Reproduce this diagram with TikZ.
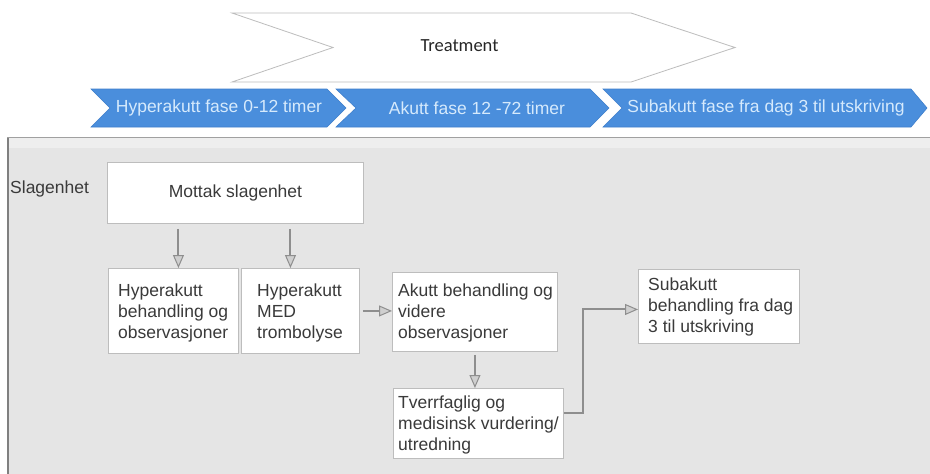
\documentclass[tikz,border=0pt]{standalone}
\usepackage{fontspec}
\setmainfont{Liberation Sans}
\newfontfamily\calib{Carlito}
\usetikzlibrary{arrows.meta}

\definecolor{phaseblue}{HTML}{4A8EDC}
\definecolor{phaseedge}{HTML}{3F7FCB}
\definecolor{phasetext}{HTML}{D6EAFC}
\definecolor{panelgray}{HTML}{E5E5E5}
\definecolor{panelband}{HTML}{EEEEEE}
\definecolor{paneledge}{HTML}{A0A0A0}
\definecolor{boxedge}{HTML}{BDBDBD}
\definecolor{conncol}{HTML}{8E8E8E}
\definecolor{headfill}{HTML}{CFCFCF}
\definecolor{txtcol}{HTML}{3A3A3A}

\tikzset{
  bodyfont/.style={font=\fontsize{17.5}{21}\selectfont},
  stepbox/.style={draw=boxedge, line width=0.9pt, fill=white, inner sep=0pt, anchor=north west},
  boxtext/.style={bodyfont, text=txtcol, align=left, inner sep=0pt, anchor=west},
  phase/.style={fill=phaseblue, draw=phaseedge, line width=0.6pt},
  phasetxt/.style={bodyfont, text=phasetext, inner sep=0pt},
  conn/.style={draw=conncol, line width=2pt,
    -{Triangle[length=13pt, width=11pt, fill=headfill, line width=1pt]}},
}

\begin{document}
\begin{tikzpicture}[x=1pt, y=-1pt]
\useasboundingbox (0,0) rectangle (930,474);
\fill[white] (0,0) rectangle (930,474);

% overall treatment chevron
\draw[draw=boxedge, line width=0.8pt, fill=white]
  (232,13) -- (631,13) -- (735,47.5) -- (631,82) -- (232,82) -- (333,47.5) -- cycle;
\node[font=\calib\fontsize{18.5}{21}\selectfont, text=black!85, anchor=base] (treat) at (459.5,51.5) {Treatment};

% phase chevrons
\draw[phase] (91,89) -- (327,89) -- (346,108) -- (327,127) -- (91,127) -- (110,108) -- cycle;
\draw[phase] (336,89) -- (590,89) -- (609,108) -- (590,127) -- (336,127) -- (356,108) -- cycle;
\draw[phase] (603,89) -- (911,89) -- (927,108) -- (911,127) -- (603,127) -- (622,108) -- cycle;
\node[phasetxt] (ph1) at (219,108) {Hyperakutt fase 0-12 timer};
\node[phasetxt] (ph2) at (477,108) {Akutt fase 12 -72 timer};
\node[phasetxt] (ph3) at (766,108) {Subakutt fase fra dag 3 til utskriving};

% swimlane panel
\fill[panelgray] (7,137) rectangle (930,474);
\fill[panelband] (7,138) rectangle (930,148);
\draw[paneledge, line width=1.5pt] (7,137.5) -- (930,137.5);
\draw[black!50, line width=2pt] (8,137.5) -- (8,474);

\node[bodyfont, text=txtcol, anchor=base west, inner sep=0pt] (lane) at (10,193) {Slagenhet};

% process boxes
\node[stepbox, minimum width=256pt, minimum height=61pt] (mottak) at (107,162) {};
\node[bodyfont, text=txtcol, inner sep=0pt] (mottak-t) at (mottak.center) {Mottak slagenhet};

\node[stepbox, minimum width=130pt, minimum height=85pt] (hyp) at (108,268) {};
\node[boxtext] (hyp-t) at ([xshift=10pt, yshift=-2pt]hyp.west) {Hyperakutt\\behandling og\\observasjoner};

\node[stepbox, minimum width=118pt, minimum height=85pt] (med) at (241,268) {};
\node[boxtext] (med-t) at ([xshift=16pt, yshift=-2pt]med.west) {Hyperakutt\\MED\\trombolyse};

\node[stepbox, minimum width=165pt, minimum height=79pt] (akutt) at (392,272) {};
\node[boxtext] (akutt-t) at ([xshift=6pt, yshift=-1pt]akutt.west) {Akutt behandling og\\videre\\observasjoner};

\node[stepbox, minimum width=170pt, minimum height=70pt] (tverr) at (393,388) {};
\node[boxtext] (tverr-t) at ([xshift=5pt, yshift=-2pt]tverr.west) {Tverrfaglig og\\medisinsk vurdering/\\utredning};

\node[stepbox, minimum width=161pt, minimum height=74pt] (sub) at (638,269) {};
\node[boxtext] (sub-t) at ([xshift=10pt, yshift=-1pt]sub.west) {Subakutt\\behandling fra dag\\3 til utskriving};

% connectors
\coordinate (a1) at ([xshift=5pt]hyp.north);
\coordinate (a2) at ([xshift=-10pt]med.north);
\draw[conn, shorten <=5pt] (mottak.south -| a1) -- (a1);
\draw[conn, shorten <=5pt] (mottak.south -| a2) -- (a2);
\draw[conn, shorten <=3pt] (med.east) -- (med.east -| akutt.west);
\draw[conn, shorten <=3pt] (akutt.south) -- (akutt.south |- tverr.north);
\coordinate (e1) at ([yshift=10pt]tverr.east);
\coordinate (e2) at ([yshift=-3pt]sub.west);
\draw[conn] (e1) -- ++(19,0) |- (e2);
\end{tikzpicture}
\end{document}
